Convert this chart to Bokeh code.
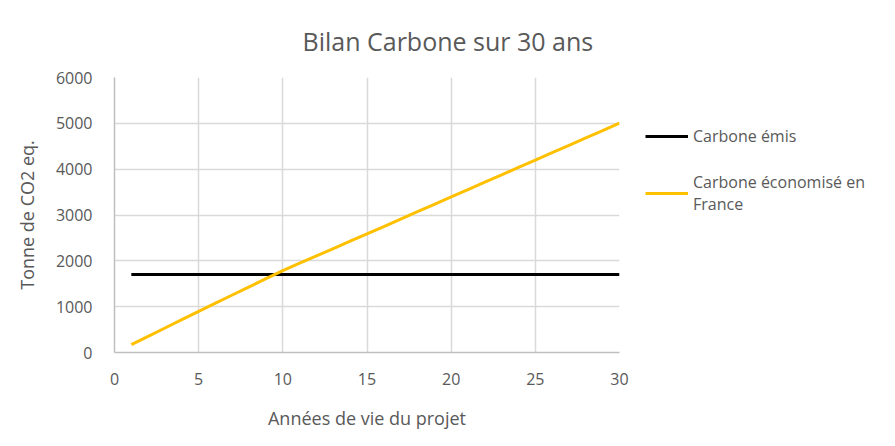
from bokeh.plotting import figure
from bokeh.models import Range1d, FixedTicker, Legend, LegendItem
from bokeh.embed import file_html
from bokeh.resources import INLINE

years = list(range(1, 31))
carbone_emis = [1700] * 30
carbone_economise = [170, 352, 534, 716, 898, 1076, 1254, 1432, 1610, 1788,
                     1948, 2108, 2268, 2428, 2588, 2749, 2910, 3071, 3232, 3393,
                     3554, 3715, 3876, 4037, 4198, 4359, 4520, 4681, 4842, 5003]
x_ticks = [0, 5, 10, 15, 20, 25, 30]
y_ticks = [0, 1000, 2000, 3000, 4000, 5000, 6000]

FONT = "Open Sans"
GREY = "#595959"

p = figure(frame_width=505, frame_height=275, output_backend="svg", toolbar_location=None,
           x_range=Range1d(0, 30), y_range=Range1d(0, 6000),
           title="Bilan Carbone sur 30 ans",
           min_border_left=114, min_border_right=10, min_border_top=77, min_border_bottom=78)
p.outline_line_color = None

p.title.text_font = FONT
p.title.text_font_size = "25px"
p.title.text_font_style = "normal"
p.title.text_color = GREY
p.title.align = "left"
p.title.vertical_align = "top"
p.title.offset = 188
p.title.standoff = 36

for ax in (p.xaxis[0], p.yaxis[0]):
    ax.major_tick_line_color = None
    ax.minor_tick_line_color = None
    ax.axis_line_color = "#BFBFBF"
    ax.axis_line_width = 1.5
    ax.major_label_text_font = FONT
    ax.major_label_text_font_size = "16px"
    ax.major_label_text_color = GREY
    ax.axis_label_text_font = FONT
    ax.axis_label_text_font_size = "18px"
    ax.axis_label_text_font_style = "normal"
    ax.axis_label_text_color = GREY

p.xaxis.ticker = FixedTicker(ticks=x_ticks)
p.yaxis.ticker = FixedTicker(ticks=y_ticks)
p.xaxis.major_label_standoff = 14
p.yaxis.major_label_standoff = 16
p.xaxis.axis_label = "Années de vie du projet"
p.yaxis.axis_label = "Tonne de CO2 eq."
p.xaxis.axis_label_standoff = 18
p.yaxis.axis_label_standoff = 14

p.xgrid.ticker = FixedTicker(ticks=x_ticks)
p.ygrid.ticker = FixedTicker(ticks=y_ticks)
p.grid.grid_line_color = "#D9D9D9"
p.grid.grid_line_width = 1.5

r1 = p.line(years, carbone_emis, line_color="black", line_width=3)
r2 = p.line(years, carbone_economise, line_color="#FFC000", line_width=3)

legend = Legend(items=[LegendItem(label="Carbone émis", renderers=[r1]),
                       LegendItem(label="Carbone économisé en\nFrance", renderers=[r2])],
                location=(26, 137), orientation="vertical")
legend.border_line_color = None
legend.background_fill_alpha = 0
legend.padding = 0
legend.margin = 0
legend.spacing = 24
legend.glyph_width = 43
legend.glyph_height = 20
legend.label_height = 20
legend.label_standoff = 5
legend.label_text_font = FONT
legend.label_text_font_size = "16px"
legend.label_text_color = GREY
p.add_layout(legend, "right")

open("out.html", "w").write(file_html(p, INLINE))
